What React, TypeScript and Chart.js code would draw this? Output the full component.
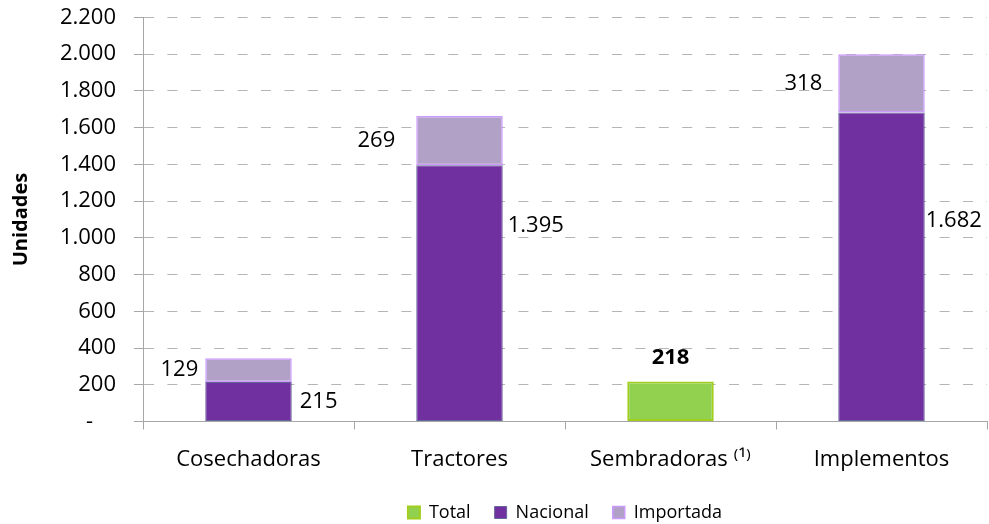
import React, { useEffect, useRef } from 'react';
import { Chart, registerables } from 'chart.js';

Chart.register(...registerables);

// ---- data ----
const categories = ['Cosechadoras', 'Tractores', 'Sembradoras ⁽¹⁾', 'Implementos'];
const totalValues: (number | null)[] = [null, null, 218, null];
const nacionalValues: (number | null)[] = [215, 1395, null, 1682];
const importadaValues: (number | null)[] = [129, 269, null, 318];
const seriesNames = ['Total', 'Nacional', 'Importada'];
const yMin = 0;
const yMax = 2200;
const yStep = 200;
const yTitle = 'Unidades';

// ---- styling ----
const FONT = "'Open Sans', 'Noto Sans', 'DejaVu Sans', sans-serif";
const AXIS = '#a6a6a6';
const GRID = '#b5b5b5';

// label placement (pixel gaps beside bars, fraction within Nacional segment)
const importadaGap = [7, 21, 0, 16];
const nacionalGap = [8, 5, 0, 1];
const nacionalFrac = [0.5, 0.235, 0.5, 0.35];

const fmt = (v: number) => String(v).replace(/\B(?=(\d{3})+(?!\d))/g, '.');

const valueLabels = {
  id: 'valueLabels',
  afterDatasetsDraw(chart: any) {
    const ctx = chart.ctx;
    ctx.save();
    ctx.fillStyle = '#000';
    ctx.textBaseline = 'middle';
    chart.data.datasets.forEach((ds: any, di: number) => {
      const meta = chart.getDatasetMeta(di);
      meta.data.forEach((el: any, i: number) => {
        const v = ds.data[i];
        if (v == null) return;
        const { x, y, base, width } = el.getProps(['x', 'y', 'base', 'width'], true);
        const left = x - width / 2;
        const right = x + width / 2;
        if (ds.label === 'Total') {
          ctx.font = `bold 22px ${FONT}`;
          ctx.textAlign = 'center';
          ctx.fillText(fmt(v), x, y - 24);
        } else if (ds.label === 'Importada') {
          ctx.font = `22px ${FONT}`;
          ctx.textAlign = 'right';
          ctx.fillText(fmt(v), left - importadaGap[i], (y + base) / 2);
        } else {
          ctx.font = `22px ${FONT}`;
          ctx.textAlign = 'left';
          ctx.fillText(fmt(v), right + nacionalGap[i], y + nacionalFrac[i] * (base - y));
        }
      });
    });
    ctx.restore();
  },
};

const legendShift = {
  id: 'legendShift',
  afterLayout(chart: any) {
    const lg = chart.legend;
    if (lg) {
      lg.top += 7.5;
      lg.bottom += 7.5;
    }
  },
};

export default function App() {
  const ref = useRef<HTMLCanvasElement | null>(null);
  useEffect(() => {
    if (!ref.current) return;
    const chart = new Chart(ref.current, {
      type: 'bar',
      data: {
        labels: categories,
        datasets: [
          {
            label: seriesNames[0],
            data: totalValues,
            backgroundColor: '#92D050',
            borderColor: '#A2CF1E',
            borderWidth: 2,
            borderSkipped: false,
            stack: 's',
          },
          {
            label: seriesNames[1],
            data: nacionalValues,
            backgroundColor: '#7030A0',
            borderColor: '#66669A',
            borderWidth: 1,
            borderSkipped: false,
            stack: 's',
          },
          {
            label: seriesNames[2],
            data: importadaValues,
            backgroundColor: '#B2A1C7',
            borderColor: '#CC99FF',
            borderWidth: 1.5,
            borderSkipped: false,
            stack: 's',
          },
        ] as any,
      },
      options: {
        animation: false,
        responsive: true,
        maintainAspectRatio: false,
        layout: { padding: { top: 17.5, right: 2, left: 0, bottom: 0 } },
        datasets: { bar: { categoryPercentage: 1, barPercentage: 0.41 } } as any,
        plugins: {
          legend: {
            position: 'bottom',
            fullSize: false,
            labels: {
              boxWidth: 12,
              boxHeight: 12,
              padding: 24,
              color: '#000',
              font: { family: FONT, size: 18 },
            },
          },
          tooltip: { enabled: false },
        },
        scales: {
          x: {
            stacked: true,
            grid: {
              display: true,
              drawOnChartArea: false,
              drawTicks: true,
              tickLength: 8,
              offset: true,
              color: AXIS,
            },
            border: { color: AXIS, width: 1 },
            ticks: {
              color: '#000',
              font: { family: FONT, size: 22 },
              padding: 17,
              maxRotation: 0,
              autoSkip: false,
            },
            afterFit: (s: any) => {
              s.height = 50.5;
            },
          },
          y: {
            stacked: true,
            min: yMin,
            max: yMax,
            ticks: {
              stepSize: yStep,
              color: '#000',
              font: { family: FONT, size: 22 },
              padding: 18,
              callback: (v: any) => (Number(v) === 0 ? '-    ' : fmt(Number(v))),
            },
            grid: {
              color: GRID,
              lineWidth: 1,
              tickColor: AXIS,
              tickLength: 9,
              tickBorderDash: [],
            },
            border: { color: AXIS, width: 1, dash: [10, 13.4] },
            title: {
              display: true,
              text: yTitle,
              color: '#000',
              font: { family: FONT, size: 20, weight: 'bold' },
              padding: { top: 9, bottom: 0 },
            },
            afterFit: (s: any) => {
              s.width = 143;
              s.paddingTop = 13;
              s.paddingBottom = 13;
            },
          },
        } as any,
      },
      plugins: [valueLabels, legendShift],
    });
    return () => chart.destroy();
  }, []);
  return (
    <div style={{ position: 'fixed', left: 0, top: 0, width: 989, height: 524, background: '#fff' }}>
      <canvas ref={ref} />
    </div>
  );
}
